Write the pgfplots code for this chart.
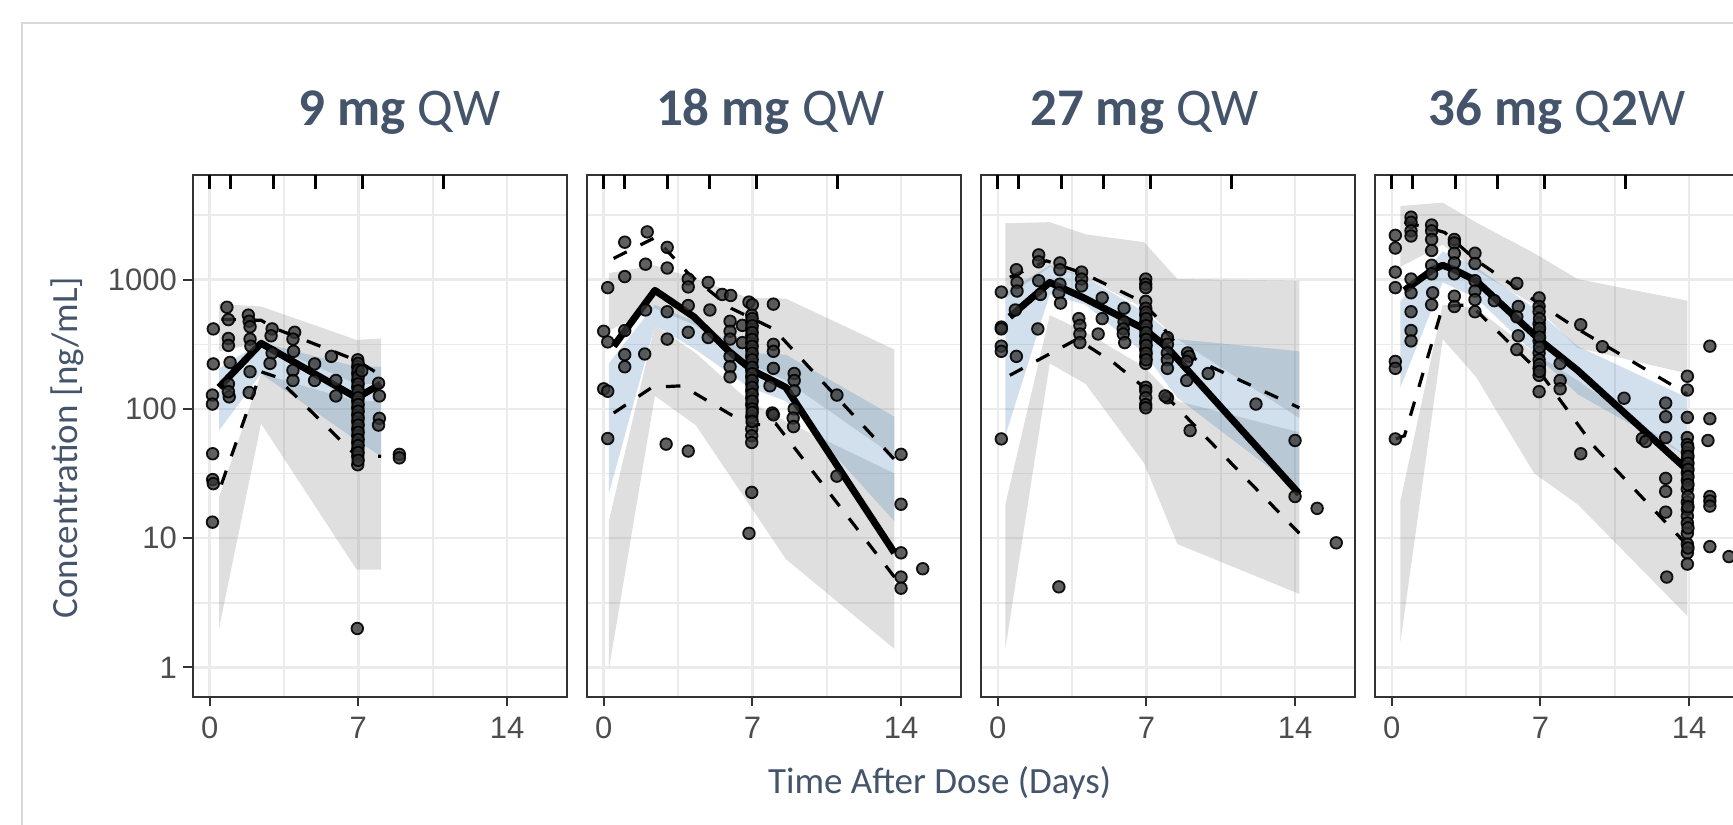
\documentclass[border=0pt]{standalone}
\usepackage{fontspec}
\setmainfont{Carlito}
\newfontfamily\tickfont{Liberation Sans}
\usepackage{pgfplots}
\pgfplotsset{compat=1.18}
\definecolor{titlecol}{HTML}{44546A}
\definecolor{tickcol}{HTML}{4D4D4D}
\definecolor{framecol}{HTML}{333333}
\definecolor{gridcol}{HTML}{EBEBEB}
\definecolor{ribblue}{HTML}{4682B4}
\definecolor{borderc}{HTML}{D9D9D9}
\definecolor{ptfill}{HTML}{333333}

\tikzset{
  gray rib/.style={fill=black!50, fill opacity=0.25, draw=none},
  blue rib/.style={fill=ribblue, fill opacity=0.25, draw=none},
  obs pts/.style={only marks, mark=*, mark size=2.9pt,
    mark options={fill=ptfill, draw=black, line width=0.9pt, fill opacity=0.78, draw opacity=0.9}},
  med line/.style={black, line width=3.5pt, line join=round},
  pct line/.style={black, line width=1.6pt, dash pattern=on 7.3pt off 7.7pt},
  rug/.style={only marks, mark=|, mark size=3.5pt, mark options={line width=1.5pt, black}},
}
\pgfplotsset{
  every axis/.append style={
    scale only axis, width=186.9pt, height=261pt,
    xmin=-0.8, xmax=16.8, ymin=0.59, ymax=6457,
    xtick={0,7,14}, xticklabels={0,7,14},
    minor xtick={3.5,10.5},
    ytick={1,10,100,1000},
    minor ytick={3.1623,31.623,316.23,3162.3},
    grid=both,
    major grid style={gridcol, line width=1.2pt},
    minor grid style={gridcol, line width=0.8pt},
    tick align=outside, xtick pos=left, ytick pos=left,
    major tick length=4.7pt, minor tick length=0pt,
    tick style={framecol, line width=1pt},
    axis line style={framecol, line width=1pt},
    tick label style={font=\tickfont\fontsize{15.5}{18}\selectfont, color=tickcol},
    xticklabel style={inner sep=0pt, yshift=-5pt},
    yticklabel style={inner sep=0pt, xshift=-3pt},
  },
}

\begin{document}
\begin{tikzpicture}
% outer light border
\draw[borderc, line width=0.75pt] (11pt,-5pt) -- (11pt,400.5pt) -- (900pt,400.5pt);

% ================= Panel 1: 9 mg QW =================
\begin{axis}[ymode=log, anchor=south west, at={(96.35pt,63.5pt)}, yticklabels={1,10,100,1000}]
\addplot[gray rib, forget plot] coordinates {(0.44,647) (2.42,620) (6.92,342) (8.07,351) (8.07,156) (6.92,156) (2.42,326) (0.44,279)} -- cycle;
\addplot[gray rib, forget plot] coordinates {(0.44,20.7) (2.42,187) (6.92,115) (8.07,115) (8.07,5.7) (6.92,5.7) (2.42,77) (0.44,2.0)} -- cycle;
\addplot[blue rib, forget plot] coordinates {(0.44,206) (2.42,326) (6.92,212) (8.07,212) (8.07,43) (6.92,57) (2.42,187) (0.44,68)} -- cycle;
\addplot[obs pts, forget plot] coordinates {
(0.81,612) (0.17,416) (0.17,223) (0.13,128) (0.13,109) (0.14,45) (0.14,28.4) (0.17,26.4) (0.13,13.3)
(0.88,491) (0.88,351) (0.88,310) (0.96,229) (0.88,156) (0.92,124) (0.88,136)
(1.82,532) (1.86,477) (1.90,432) (1.90,347) (1.94,306) (1.90,194) (1.86,134)
(2.94,416) (2.89,368) (2.94,271) (2.84,225)
(4.00,392) (3.92,347) (3.95,279) (3.92,199) (3.92,166)
(4.94,223) (4.94,166) (5.73,255) (5.94,166) (5.94,126)
(6.97,240) (6.97,212) (6.97,188) (6.97,166) (6.97,147) (6.97,130) (6.97,115) (6.97,102)
(6.97,90) (6.97,80) (6.97,70) (6.97,62) (6.97,55) (6.97,49) (6.97,43) (6.97,37)
(6.99,225) (6.99,200) (6.99,177) (6.99,156) (6.99,138) (6.99,122) (6.99,108) (6.99,96)
(6.99,85) (6.99,75) (6.99,66) (6.99,58) (6.99,52) (6.99,46) (6.99,40)
(7.16,197) (7.95,158) (7.99,126) (7.99,84.5) (7.95,75) (8.93,44.5) (8.93,41.8) (6.95,2.0)};
\addplot[pct line, forget plot] coordinates {(0.55,494) (2.42,485) (3.13,416) (6.92,237) (8.07,182)};
\addplot[pct line, forget plot] coordinates {(0.55,26) (2.42,194) (3.13,177) (6.92,43) (8.07,43)};
\addplot[med line, forget plot] coordinates {(0.44,147) (2.42,322) (6.92,122) (8.07,156)};
\addplot[rug, forget plot] coordinates {(0,5701) (1,5701) (3,5701) (5,5701) (7.2,5701) (11,5701)};
\end{axis}

% ================= Panel 2: 18 mg QW =================
\begin{axis}[ymode=log, anchor=south west, at={(293.35pt,63.5pt)}, yticklabels={}, ytick style={draw=none}]
\addplot[gray rib, forget plot] coordinates {(0.24,1124) (2.41,1293) (4.33,1012) (6.84,723) (8.57,714) (13.69,288) (13.69,43) (8.57,166) (6.84,225) (4.33,443) (2.41,601) (0.24,404)} -- cycle;
\addplot[gray rib, forget plot] coordinates {(0.24,13.5) (2.41,443) (4.33,271) (6.84,115) (8.57,80) (13.69,31.7) (13.69,1.39) (8.57,6.9) (6.84,18.3) (4.33,75) (2.41,126) (0.24,0.96)} -- cycle;
\addplot[blue rib, forget plot] coordinates {(0.24,225) (2.41,640) (4.33,471) (6.84,271) (8.57,263) (13.69,87) (13.69,13.5) (8.57,115) (6.84,147) (4.33,288) (2.41,443) (0.24,22)} -- cycle;
\addplot[obs pts, forget plot] coordinates {
(0.19,868) (0,399) (0.19,330) (0,143) (0.19,137) (0.19,59)
(0.99,1950) (0.99,1057) (0.99,404) (0.99,263) (0.99,212)
(2.05,2344) (1.97,1318) (1.97,583) (1.93,266)
(2.99,1778) (2.99,1231) (2.99,565) (2.99,347) (2.94,53.4)
(3.98,1012) (3.98,879) (3.98,631) (3.98,392) (3.98,47.2)
(4.92,952) (5.00,583) (4.92,357) (5.58,769)
(5.98,755) (5.95,477) (5.95,399) (5.95,347) (5.95,255) (5.95,212) (5.95,177)
(6.53,443) (6.53,326) (6.84,671) (7.0,640)
(6.97,532) (6.97,471) (6.97,416) (6.97,368) (6.97,326) (6.97,288) (6.97,255) (6.97,225) (6.97,199)
(6.97,177) (6.97,156) (6.97,138) (6.97,122) (6.97,108) (6.97,87) (6.97,70) (6.97,62) (6.97,55)
(6.99,500) (6.99,440) (6.99,390) (6.99,345) (6.99,305) (6.99,270) (6.99,240) (6.99,210)
(6.99,187) (6.99,166) (6.99,147) (6.99,130) (6.99,115) (6.99,100) (6.99,94) (6.99,80)
(6.97,22.6) (6.84,10.9)
(7.99,647) (7.99,316) (7.99,279) (7.99,206) (7.83,151) (7.94,93) (7.99,90)
(8.97,188) (8.97,166) (8.97,138) (8.97,100) (8.92,85) (8.94,73)
(10.98,128) (10.98,30.2)
(14.0,44.5) (14.0,18.3) (14.0,7.7) (14.0,5.0) (14.0,4.1) (15.02,5.8)};
\addplot[pct line, forget plot] coordinates {(0.47,1462) (2.41,2114) (4.0,1110) (6.0,601) (8.0,416) (13.69,40.6)};
\addplot[pct line, forget plot] coordinates {(0.47,93) (2.28,147) (3.7,151) (6.0,90) (7.0,75) (8.1,77) (13.69,5.0)};
\addplot[med line, forget plot] coordinates {(0.47,306) (2.41,827) (4.25,516) (5.9,279) (7.0,199) (8.57,147) (13.69,7.7)};
\addplot[rug, forget plot] coordinates {(0,5701) (1,5701) (3,5701) (5,5701) (7.2,5701) (11,5701)};
\end{axis}

% ================= Panel 3: 27 mg QW =================
\begin{axis}[ymode=log, anchor=south west, at={(490.35pt,63.5pt)}, yticklabels={}, ytick style={draw=none}]
\addplot[gray rib, forget plot] coordinates {(0.36,2733) (2.45,2786) (4.14,2245) (6.89,1950) (8.46,1012) (14.2,982) (14.2,85) (8.46,347) (6.89,601) (4.14,1044) (2.45,1254) (0.36,723)} -- cycle;
\addplot[gray rib, forget plot] coordinates {(0.36,18.3) (2.45,532) (4.14,392) (6.89,212) (8.46,115) (14.2,66) (14.2,3.7) (8.46,9.0) (6.89,38) (4.14,156) (2.45,225) (0.36,1.39)} -- cycle;
\addplot[blue rib, forget plot] coordinates {(0.36,792) (2.45,1293) (4.14,1044) (6.89,565) (8.46,347) (14.2,279) (14.2,23.4) (8.46,122) (6.89,271) (4.14,640) (2.45,769) (0.36,62)} -- cycle;
\addplot[obs pts, forget plot] coordinates {
(0.17,802) (0.17,430) (0.17,416) (0.17,306) (0.17,279) (0.17,58.6)
(0.88,1194) (0.91,952) (0.91,817) (0.83,583) (0.88,255)
(1.93,1556) (1.93,1375) (1.93,982) (2.01,769) (1.89,416)
(2.93,1349) (2.93,1194) (2.93,923) (2.88,792) (2.96,659) (2.88,4.2)
(3.95,1145) (3.95,1012) (3.95,895) (3.82,500) (3.87,443) (3.87,380) (3.87,326)
(4.92,723) (4.92,500) (4.73,380)
(5.95,601) (5.95,471) (5.91,416) (5.91,380) (5.98,326)
(6.97,1012) (6.97,923) (6.97,868) (6.97,680) (6.97,601) (6.97,532) (6.97,471) (6.97,416) (6.97,368)
(6.97,326) (6.97,288) (6.97,255) (6.97,225) (6.97,147) (6.97,138) (6.97,122) (6.97,108) (6.97,102)
(6.99,560) (6.99,500) (6.99,440) (6.99,390) (6.99,345) (6.99,310) (6.99,270) (6.99,240)
(7.99,357) (7.99,316) (7.99,271) (7.99,240) (7.99,206) (7.99,122) (7.88,126)
(8.94,271) (9.01,255) (8.90,233) (8.90,166) (9.91,188) (9.06,68)
(12.16,109) (14.0,57) (14.0,21) (15.04,17) (15.94,9.2)};
\addplot[pct line, forget plot] coordinates {(0.57,1044) (2.3,1400) (4.0,1124) (5.6,842) (6.6,701) (7.4,532) (8.0,380) (8.8,271) (9.7,225) (14.2,102)};
\addplot[pct line, forget plot] coordinates {(0.57,182) (3.74,347) (5.5,225) (6.8,151) (8.0,122) (14.2,10.9)};
\addplot[med line, forget plot] coordinates {(0.57,516) (2.45,952) (4.06,723) (6.89,416) (7.99,297) (14.2,22)};
\addplot[rug, forget plot] coordinates {(0,5701) (1,5701) (3,5701) (5,5701) (7.2,5701) (11,5701)};
\end{axis}

% ================= Panel 4: 36 mg Q2W =================
\begin{axis}[ymode=log, anchor=south west, at={(687.35pt,63.5pt)}, yticklabels={}, ytick style={draw=none}]
\addplot[gray rib, forget plot] coordinates {(0.41,3715) (2.40,3948) (3.97,2780) (6.71,1603) (8.75,1012) (13.92,688) (13.92,188) (8.75,297) (6.71,640) (3.97,1180) (2.40,1868) (0.41,1254)} -- cycle;
\addplot[gray rib, forget plot] coordinates {(0.41,19.4) (2.40,640) (3.97,601) (6.71,271) (8.75,166) (13.92,43) (13.92,2.5) (8.75,18.3) (6.71,31.7) (3.97,177) (2.40,347) (0.41,1.57)} -- cycle;
\addplot[blue rib, forget plot] coordinates {(0.41,680) (2.40,1653) (3.97,1254) (6.71,601) (8.75,306) (13.92,122) (13.92,43) (8.75,130) (6.71,271) (3.97,723) (2.40,952) (0.41,147)} -- cycle;
\addplot[obs pts, forget plot] coordinates {
(0.17,2203) (0.17,1757) (0.17,1145) (0.17,868) (0.17,233) (0.17,206) (0.17,58.6)
(0.91,3047) (0.91,2782) (0.91,2387) (0.91,2178) (0.91,1012) (0.91,792) (0.91,565) (0.91,404) (0.91,336)
(1.88,2649) (1.88,2387) (1.88,2047) (1.88,1683) (1.88,1293) (1.88,1110) (1.93,792) (1.88,640)
(2.95,2047) (2.95,1926) (2.95,1603) (2.95,1349) (2.95,1110) (2.95,745) (2.95,620)
(3.92,1603) (3.92,1334) (3.92,982) (3.92,817) (3.92,701) (3.92,565) (4.83,688)
(5.89,935) (5.96,620) (5.89,516) (5.96,368) (5.89,288)
(6.94,723) (6.94,620) (6.94,565) (6.94,456) (6.94,392) (6.94,336) (6.94,271) (6.94,240) (6.94,206) (6.94,182) (6.94,136)
(6.96,500) (6.96,420) (6.96,360) (6.96,300) (6.96,220) (6.96,195)
(7.93,225) (7.93,166) (7.93,143) (8.90,448) (9.92,303) (10.94,121) (11.80,59) (11.96,56) (8.90,45)
(12.9,111) (12.9,87) (12.9,60) (12.9,29) (12.9,23) (12.9,15.9) (12.95,5.0)
(13.92,179) (13.92,140) (13.92,86) (13.92,60) (13.92,53) (13.92,46) (13.92,41) (13.92,36) (13.92,32) (13.92,28)
(13.92,24) (13.92,19) (13.92,16.7) (13.92,14.8) (13.92,13.1) (13.92,10.9) (13.92,9.0) (13.92,7.7) (13.92,6.3)
(13.95,50) (13.95,43) (13.95,38) (13.95,34) (13.95,30) (13.95,26) (13.95,21) (13.95,17.5) (13.95,12) (13.95,8.4)
(14.98,306) (14.98,84) (14.89,57) (14.98,21) (14.98,19.4) (14.98,17.7) (14.98,8.6) (15.88,7.2)};
\addplot[pct line, forget plot] coordinates {(0.6,2782) (1.85,2493) (2.5,2317) (3.97,1418) (7.02,640) (8.75,416) (13.92,130)};
\addplot[pct line, forget plot] coordinates {(0.2,58.6) (0.6,62) (2.4,620) (3.7,640) (7.02,188) (9.5,51.8) (13.92,8.8)};
\addplot[med line, forget plot] coordinates {(0.6,827) (1.93,1194) (2.4,1293) (2.95,1194) (3.97,982) (7.02,336) (8.75,199) (13.92,33.7)};
\addplot[rug, forget plot] coordinates {(0,5701) (1,5701) (3,5701) (5,5701) (7.2,5701) (11,5701)};
\end{axis}

% titles
\node[anchor=base, text=titlecol, font=\fontsize{26.5}{30}\selectfont] at (199.75pt,349pt) {\textbf{9 mg} QW};
\node[anchor=base, text=titlecol, font=\fontsize{26.5}{30}\selectfont] at (385.15pt,349pt) {\textbf{18 mg} QW};
\node[anchor=base, text=titlecol, font=\fontsize{26.5}{30}\selectfont] at (572.2pt,349pt) {\textbf{27 mg} QW};
\node[anchor=base, text=titlecol, font=\fontsize{26.5}{30}\selectfont] at (778.6pt,349pt) {\textbf{36 mg} Q\textbf{2}W};
% axis titles
\node[anchor=base, text=titlecol, font=\fontsize{18.5}{22}\selectfont] at (469.75pt,15.25pt) {Time After Dose (Days)};
\node[anchor=base, rotate=90, text=titlecol, font=\fontsize{18.5}{22}\selectfont] at (38.5pt,188.2pt) {Concentration [ng/mL]};

\pgfresetboundingbox
\path[use as bounding box] (0,0) rectangle (866.5pt,412pt);
\end{tikzpicture}
\end{document}
